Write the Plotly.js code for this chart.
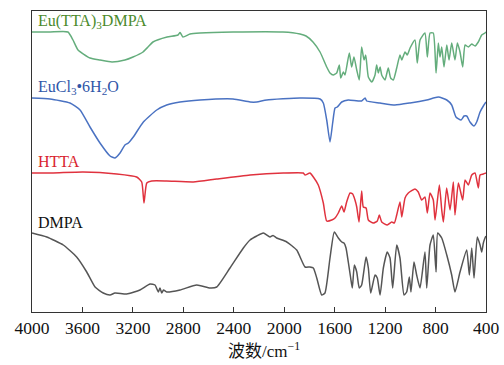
<!DOCTYPE html>
<html>
<head>
<meta charset="utf-8">
<script src="https://cdn.plot.ly/plotly-3.0.1.min.js"></script>
<style>html,body{margin:0;padding:0;background:#fff;}#chart{width:504px;height:365px;}</style>
</head>
<body>
<div id="chart"></div>
<script>
// Wavenumbers (cm^-1) and stacked transmittance (a.u., offset)
const wnEu = [4000,3857,3715,3675,3635,3540,3461,3366,3263,3199,3120,3080,3041,2929,2842,2826,2803,2747,2668,2406,2010,1875,1827,1772,1716,1663,1637,1611,1584,1563,1552,1531,1518,1484,1465,1447,1425,1405,1386,1367,1354,1333,1306,1280,1267,1254,1240,1227,1201,1175,1156,1135,1108,1082,1068,1042,1024,1002,963,945,923,884,865,844,818,796,778,765,751,733,711,693,672,646,627,606,585,566,540,513,487,461,434,408,400];
const tEu = [280,280,280,272,262,254,252,250,252,255,260,265,270,275,277,279.5,275,278,279,280,280,278,276,270,260,245,239,237,239,247,234,240,237,259,245,255,242,232,265,252,257,235,230,237,247,239,245,237,232,244,234,232,244,257,252,260,257,264,272,249,272,279,255,279,279,239,269,255,265,245,267,252,269,252,269,260,245,267,265,268,266,270,277,279,280];

const wnEuCl = [4000,3857,3699,3619,3540,3461,3381,3342,3302,3263,3236,3197,3117,3011,2932,2826,2668,2406,2271,2218,2139,1875,1716,1690,1663,1637,1616,1597,1579,1544,1492,1386,1359,1346,1240,1122,1002,870,778,711,672,638,598,574,553,527,495,474,447,421,400];
const tEuCl = [214,213,209,202,185,169,156,154,159,167,169,175,190,202,207,210,212,213,210,210,212,214,213,209,192,170,189,204,205,210,212,211,214,211,209,207,209,212,215,212,207,195,192,196,196,190,186,190,200,206,210];

const wnHTTA = [4000,3833,3596,3328,3170,3130,3112,3090,3051,2932,2721,2535,2271,2007,1849,1835,1796,1769,1730,1690,1663,1623,1597,1571,1544,1526,1505,1478,1457,1439,1425,1407,1386,1373,1351,1333,1294,1262,1246,1227,1183,1148,1127,1108,1082,1068,1042,1016,963,937,910,884,865,844,818,804,770,751,738,712,685,659,646,619,585,566,540,513,487,461,447,421,400];
const tHTTA = [139,139,140,138,135,130,109,129,131,131,130,133,137,139,139,137,139,135,127,109,91,92,94,99,106,100,110,119,118,112,105,90,121,105,104,92,89,91,97,90,87,90,89,97,110,95,114,119,123,120,112,115,99,119,112,92,127,102,90,124,102,130,97,129,112,132,127,137,139,124,137,138,139];

const wnDMPA = [4000,3883,3752,3646,3566,3500,3435,3381,3342,3249,3144,3064,3025,2998,2985,2971,2957,2932,2826,2694,2588,2535,2430,2324,2271,2218,2166,2113,2089,2060,1980,1901,1835,1796,1769,1742,1703,1677,1637,1603,1571,1544,1526,1510,1492,1473,1460,1444,1425,1405,1386,1351,1333,1314,1280,1262,1240,1214,1183,1161,1140,1108,1082,1050,1029,1008,995,971,950,923,884,870,844,818,796,783,751,711,672,646,606,553,532,513,495,469,447,434,421,408,400];
const tDMPA = [79,75,67,55,40,25,19,17,19,18,22,28,27,20,24,19,22,20,22,27,24,25,44,64,72,76,79,75,76.5,74,70,62,45,45,44,34,17,19,54,80,74,70,69,64,50,34,24,47,40,24,27,55,44,19,37,34,17,44,60,54,24,67,54,17,20,35,20,50,37,24,60,24,67,77,40,79,74,57,37,20,40,62,37,64,34,75,67,60,69,74,76];

const seriesNames = ['Eu(TTA)<sub>3</sub>DMPA','EuCl<sub>3</sub>•6H<sub>2</sub>O','HTTA','DMPA'];
const tickVals = [4000,3600,3200,2800,2400,2000,1600,1200,800,400];
const xTitle = '波数/cm<sup>−1</sup>';

const lineColors = ['#64ad7c','#4a72c2','#e0323e','#555555'];
const labelColors = ['#4b8a2c','#2f56a8','#d9232e','#111111'];
const labelY = [291,225,151,90];

const xs = [wnEu, wnEuCl, wnHTTA, wnDMPA];
const ys = [tEu, tEuCl, tHTTA, tDMPA];

const traces = xs.map((x,i)=>({
  x: x, y: ys[i], type:'scatter', mode:'lines',
  line:{color: lineColors[i], width:1.5, shape:'spline', smoothing:0.5}, hoverinfo:'skip', showlegend:false
}));

const serif = '"Times New Roman", "Liberation Serif", "Noto Sans CJK SC", serif';
const annotations = seriesNames.map((t,i)=>({
  text: t, x: 3968, y: labelY[i], xref:'x', yref:'y', xanchor:'left', yanchor:'middle',
  showarrow:false, font:{family: serif, size:16, color: labelColors[i]}
}));
annotations.push({
  text: xTitle, xref:'paper', yref:'paper', x:0.51, y:-0.082, xanchor:'center', yanchor:'top',
  showarrow:false, font:{family: serif, size:17, color:'#111'}
});

const layout = {
  width:504, height:365,
  margin:{l:32, r:18, t:11, b:53},
  paper_bgcolor:'#fff', plot_bgcolor:'#fff',
  showlegend:false,
  xaxis:{
    range:[4000,400], tickvals: tickVals, ticktext: tickVals.map(String),
    ticks:'inside', ticklen:5, tickwidth:1, tickcolor:'#333',
    showline:true, linecolor:'#333', linewidth:1.2, mirror:true,
    showgrid:false, zeroline:false,
    tickfont:{family: serif, size:17.5, color:'#111'},
    title:{text:''}
  },
  yaxis:{
    range:[0,301], showticklabels:false, ticks:'', showgrid:false, zeroline:false,
    showline:true, linecolor:'#333', linewidth:1.2, mirror:true
  },
  annotations: annotations
};

Plotly.newPlot('chart', traces, layout, {displayModeBar:false, staticPlot:true});
</script>
</body>
</html>
